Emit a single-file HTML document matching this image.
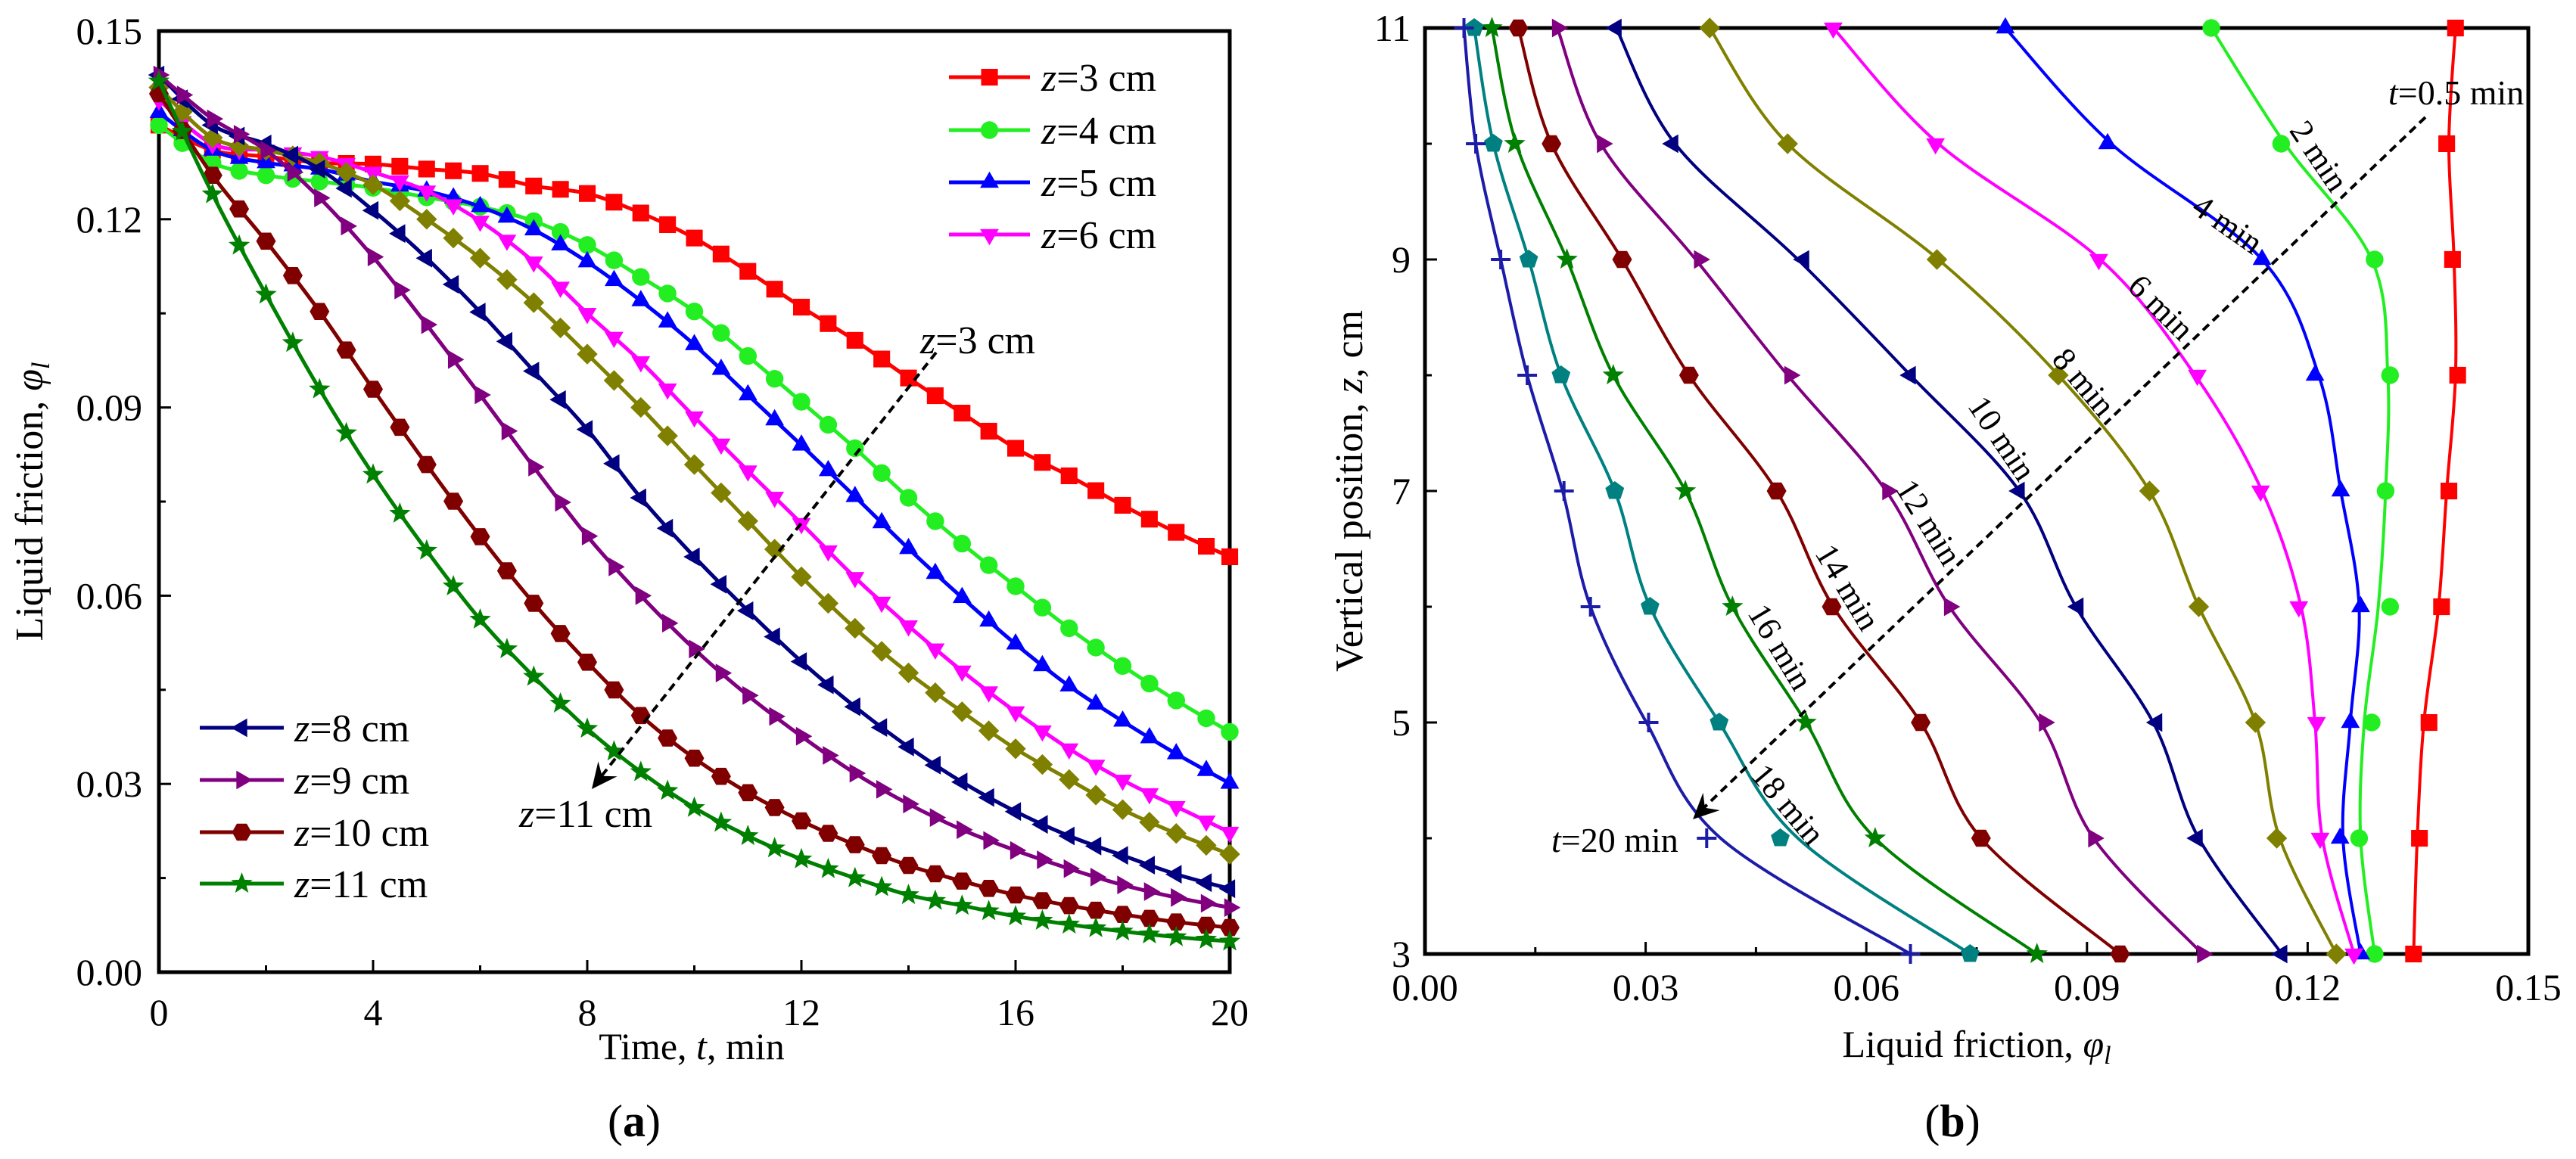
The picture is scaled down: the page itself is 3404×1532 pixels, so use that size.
<!DOCTYPE html>
<html><head><meta charset="utf-8"><style>
html,body{margin:0;padding:0;background:#fff}
svg text{font-family:"Liberation Serif","DejaVu Serif",serif;fill:#000}
</style></head><body>
<svg id="fig" width="3404" height="1527" viewBox="0 0 3404 1527" xmlns="http://www.w3.org/2000/svg">
<rect width="3404" height="1527" fill="#fff"/>
<g id="pa"></g>
<g id="pb"></g>
</svg>
<script>
// ---------- Panel (a) data ----------
const timesA = [0,1,2,3,4,5,6,7,8,9,10,11,12,13,14,15,16,17,18,19,20];
const labelsA = ["z=3 cm","z=4 cm","z=5 cm","z=6 cm","z=7 cm","z=8 cm","z=9 cm","z=10 cm","z=11 cm"];
const z3 = [0.135,0.131,0.130,0.129,0.1288,0.128,0.1273,0.1253,0.1241,0.121,0.117,0.1117,0.106,0.1007,0.0947,0.0891,0.0835,0.0791,0.0744,0.0701,0.0662];
const z4 = [0.135,0.129,0.127,0.126,0.125,0.1235,0.122,0.1197,0.1159,0.1108,0.1053,0.0982,0.0909,0.0835,0.0756,0.0683,0.0615,0.0548,0.0488,0.0433,0.0383];
const z5 = [0.137,0.131,0.129,0.128,0.126,0.1245,0.122,0.1183,0.1132,0.107,0.100,0.092,0.084,0.0758,0.0675,0.0597,0.0523,0.0456,0.040,0.0348,0.0301];
const z6 = [0.139,0.132,0.131,0.130,0.1275,0.1245,0.1197,0.1132,0.105,0.0973,0.0885,0.0799,0.0715,0.0629,0.0552,0.048,0.0415,0.0356,0.0306,0.0264,0.0223];
const z7 = [0.141,0.133,0.131,0.129,0.1255,0.120,0.1138,0.1067,0.0985,0.090,0.0809,0.0719,0.063,0.0548,0.0477,0.0415,0.0356,0.0307,0.0259,0.0221,0.0188];
const z8 = [0.143,0.135,0.132,0.128,0.1214,0.1138,0.1052,0.0958,0.0865,0.0756,0.0662,0.0576,0.0495,0.0423,0.0359,0.0303,0.0256,0.0217,0.0186,0.0156,0.0133];
const z9 = [0.143,0.136,0.131,0.1234,0.114,0.1032,0.092,0.0805,0.0695,0.060,0.0515,0.0441,0.0376,0.0317,0.0268,0.0227,0.0194,0.0165,0.0139,0.0119,0.0103];
const z10 = [0.140,0.127,0.1165,0.1053,0.0929,0.0809,0.0694,0.0588,0.0494,0.0409,0.0341,0.0286,0.0241,0.0203,0.017,0.0145,0.0123,0.0106,0.0092,0.008,0.0071];
const z11 = [0.142,0.124,0.108,0.0929,0.0793,0.0672,0.0562,0.0471,0.0388,0.0319,0.0262,0.0217,0.018,0.015,0.0123,0.0106,0.0089,0.0076,0.0065,0.0056,0.0049];
const xTicksA = [0,4,8,12,16,20];
const yTicksA = [0,0.03,0.06,0.09,0.12,0.15];
const yTickLabelsA = ["0.00","0.03","0.06","0.09","0.12","0.15"];

// ---------- Panel (b) data ----------
const zLine = [3,4,5,6,7,8,9,10,11];
const zMark = [4,5,6,7,8,9,10];
const labelsB = ["0.5 min","2 min","4 min","6 min","8 min","10 min","12 min","14 min","16 min","18 min","20 min"];
const t05 = [0.1344,0.1349,0.1358,0.1378,0.1389,0.1401,0.1399,0.1392,0.1401];
const t05m = [0.1352,0.1365,0.1382,0.1392,0.1404,0.1397,0.1389];
const t2 = [0.1291,0.1272,0.1277,0.1296,0.1306,0.1309,0.1287,0.1169,0.1069];
const t2m = [0.1270,0.1287,0.1312,0.1306,0.1312,0.1291,0.1164];
const t4 = [0.1272,0.1248,0.1258,0.1270,0.1245,0.1215,0.1138,0.0933,0.0789];
const t4m = [0.1244,0.1258,0.1272,0.1245,0.1210,0.1138,0.0928];
const t6 = [0.1263,0.1220,0.1210,0.1191,0.1138,0.1047,0.0918,0.0698,0.0555];
const t6m = [0.1217,0.1212,0.1188,0.1136,0.1050,0.0916,0.0694];
const t8 = [0.1239,0.1162,0.1129,0.1052,0.0985,0.0861,0.0698,0.0493,0.0387];
const t8m = [0.1158,0.1129,0.1052,0.0985,0.0861,0.0696,0.0493];
const t10 = [0.1165,0.1052,0.0990,0.0885,0.0808,0.0660,0.0507,0.0340,0.0260];
const t10m = [0.1050,0.0995,0.0888,0.0808,0.0660,0.0515,0.0337];
const t12 = [0.1057,0.0909,0.0837,0.0713,0.0627,0.0493,0.0368,0.0239,0.0180];
const t12m = [0.0909,0.0842,0.0713,0.0629,0.0496,0.0373,0.0241];
const t14 = [0.0945,0.0756,0.0674,0.0555,0.0478,0.0359,0.0268,0.0172,0.0127];
const t14m = [0.0756,0.0674,0.0553,0.0478,0.0359,0.0268,0.0172];
const t16 = [0.0832,0.0612,0.0518,0.0418,0.0354,0.0256,0.0193,0.0124,0.0091];
const t16m = [0.0612,0.0518,0.0418,0.0354,0.0256,0.0193,0.0122];
const t18 = [0.0741,0.0507,0.0400,0.0306,0.0258,0.0185,0.0141,0.0093,0.0067];
const t18m = [0.0483,0.0400,0.0306,0.0258,0.0185,0.0141,0.0093];
const t20 = [0.0660,0.0402,0.0301,0.0225,0.0187,0.0139,0.0103,0.0069,0.0053];
const t20m = [0.0383,0.0304,0.0225,0.0189,0.0139,0.0103,0.0069];
const xTicksB = [0,0.03,0.06,0.09,0.12,0.15];
const xTickLabelsB = ["0.00","0.03","0.06","0.09","0.12","0.15"];
const yTicksB = [3,5,7,9,11];

const NS = "http://www.w3.org/2000/svg";
function mk(parent, tag, attrs, txt){
  const e = document.createElementNS(NS, tag);
  for (const k in attrs) e.setAttribute(k, attrs[k]);
  if (txt !== undefined) e.textContent = txt;
  parent.appendChild(e);
  return e;
}
const A = {x0:210,x1:1625,y0:41,y1:1285};
const B = {x0:1883,x1:3341,y0:37,y1:1261};
const ax = t => A.x0 + (t/20)*(A.x1-A.x0);
const ay = v => A.y1 - (v/0.15)*(A.y1-A.y0);
const bx = v => B.x0 + (v/0.15)*(B.x1-B.x0);
const by = z => B.y1 - ((z-3)/8)*(B.y1-B.y0);
const MR = 13;

function crPoint(p0,p1,p2,p3,s){
  const s2=s*s,s3=s2*s;
  const f=(a,b,c,d)=>0.5*((2*b)+(-a+c)*s+(2*a-5*b+4*c-d)*s2+(-a+3*b-3*c+d)*s3);
  return [f(p0[0],p1[0],p2[0],p3[0]), f(p0[1],p1[1],p2[1],p3[1])];
}
function smoothPath(pts){
  let d = "M"+pts[0][0].toFixed(1)+","+pts[0][1].toFixed(1);
  for (let i=0;i<pts.length-1;i++){
    const p0=pts[Math.max(i-1,0)],p1=pts[i],p2=pts[i+1],p3=pts[Math.min(i+2,pts.length-1)];
    const c1=[p1[0]+(p2[0]-p0[0])/6,p1[1]+(p2[1]-p0[1])/6];
    const c2=[p2[0]-(p3[0]-p1[0])/6,p2[1]-(p3[1]-p1[1])/6];
    d+=" C"+c1[0].toFixed(1)+","+c1[1].toFixed(1)+" "+c2[0].toFixed(1)+","+c2[1].toFixed(1)+" "+p2[0].toFixed(1)+","+p2[1].toFixed(1);
  }
  return d;
}
function poly(n, r, rot){
  const p=[];
  for(let i=0;i<n;i++){const a=rot+i*2*Math.PI/n;p.push((r*Math.cos(a)).toFixed(1)+","+(r*Math.sin(a)).toFixed(1));}
  return p.join(" ");
}
function starPts(r){
  const p=[];
  for(let i=0;i<10;i++){const a=-Math.PI/2+i*Math.PI/5;const rr=i%2?r*0.42:r;p.push((rr*Math.cos(a)).toFixed(1)+","+(rr*Math.sin(a)).toFixed(1));}
  return p.join(" ");
}
function marker(g, shape, x, y, color, r){
  let e;
  const tr = "translate("+x.toFixed(1)+","+y.toFixed(1)+")";
  if (shape==="square") e = mk(g,"rect",{x:(x-r*0.85).toFixed(1),y:(y-r*0.85).toFixed(1),width:(r*1.7).toFixed(1),height:(r*1.7).toFixed(1),fill:color});
  else if (shape==="circle") e = mk(g,"circle",{cx:x.toFixed(1),cy:y.toFixed(1),r:(r*0.9).toFixed(1),fill:color});
  else if (shape==="up") e = mk(g,"polygon",{points:poly(3,r*1.1,-Math.PI/2),transform:tr,fill:color});
  else if (shape==="down") e = mk(g,"polygon",{points:poly(3,r*1.1,Math.PI/2),transform:tr,fill:color});
  else if (shape==="left") e = mk(g,"polygon",{points:poly(3,r*1.1,Math.PI),transform:tr,fill:color});
  else if (shape==="right") e = mk(g,"polygon",{points:poly(3,r*1.1,0),transform:tr,fill:color});
  else if (shape==="diamond") e = mk(g,"polygon",{points:poly(4,r*1.05,0),transform:tr,fill:color});
  else if (shape==="hex") e = mk(g,"polygon",{points:poly(6,r,0),transform:tr,fill:color});
  else if (shape==="pent") e = mk(g,"polygon",{points:poly(5,r,-Math.PI/2),transform:tr,fill:color});
  else if (shape==="star") e = mk(g,"polygon",{points:starPts(r*1.15),transform:tr,fill:color});
  else if (shape==="plus") e = mk(g,"path",{d:"M"+(x-r)+","+y+"H"+(x+r)+"M"+x+","+(y-r)+"V"+(y+r),stroke:color,"stroke-width":4,fill:"none"});
  
  
  return e;
}
function frame(g, P){
  const r = mk(g,"rect",{x:P.x0,y:P.y0,width:P.x1-P.x0,height:P.y1-P.y0,fill:"none",stroke:"#000","stroke-width":5});
  
  
}
function tick(g,x1,y1,x2,y2){
  const l = mk(g,"line",{x1:x1,y1:y1,x2:x2,y2:y2,stroke:"#000","stroke-width":3});
  
  
}
function arrowHead(g, x1,y1,x2,y2){
  const ang = Math.atan2(y2-y1,x2-x1);
  const L=34, W=16, back=22;
  const p=(d,w)=>[x2-d*Math.cos(ang)-w*Math.sin(ang), y2-d*Math.sin(ang)+w*Math.cos(ang)];
  const a=p(L,W), b=p(back,0), c=p(L,-W);
  const e = mk(g,"polygon",{points:[[x2,y2],a,b,c].map(q=>q[0].toFixed(1)+","+q[1].toFixed(1)).join(" "),fill:"#000"});
  
  
}

// ---------- draw panel (a) ----------
const ga = document.getElementById("pa");
const seriesA = [z3,z4,z5,z6,z7,z8,z9,z10,z11];
const colorsA = ["#ff0000","#22ee22","#0000ff","#ff00ff","#808000","#000080","#800080","#800000","#008000"];
const shapesA = ["square","circle","up","down","diamond","left","right","hex","star"];
frame(ga, A);
xTicksA.forEach(t=>{
  tick(ga, ax(t), A.y1, ax(t), A.y1-16);
  const tx = mk(ga,"text",{x:ax(t),y:1355,"font-size":50,"text-anchor":"middle"},String(t));
  
  
});
for (let t=2;t<20;t+=4) tick(ga, ax(t), A.y1, ax(t), A.y1-9);
yTicksA.forEach((v,i)=>{
  tick(ga, A.x0, ay(v), A.x0+16, ay(v));
  const tx = mk(ga,"text",{x:188,y:ay(v)+17,"font-size":50,"text-anchor":"end"},yTickLabelsA[i]);
  
  
});
for (let v=0.015;v<0.15;v+=0.03) tick(ga, A.x0, ay(v), A.x0+9, ay(v));

seriesA.forEach((s,si)=>{
  const g = mk(ga,"g",{});
  
  
  const pts = s.map((v,i)=>[ax(timesA[i]), ay(v)]);
  const p = mk(g,"path",{d:smoothPath(pts),fill:"none",stroke:colorsA[si],"stroke-width":5});
  
  
  for (let i=0;i<pts.length;i++){
    marker(g, shapesA[si], pts[i][0], pts[i][1], colorsA[si], MR);
    if (i<pts.length-1){
      const m = crPoint(pts[Math.max(i-1,0)],pts[i],pts[i+1],pts[Math.min(i+2,pts.length-1)],0.5);
      marker(g, shapesA[si], m[0], m[1], colorsA[si], MR);
    }
  }
});
const legTop = [0,1,2,3], legBot = [5,6,7,8];
const legTopY = [102,172,241,310], legBotY = [962,1031,1100,1168];
function legendEntry(si, x1, x2, tx, y){
  const g = mk(ga,"g",{});
  
  
  mk(g,"line",{x1:x1,y1:y,x2:x2,y2:y,stroke:colorsA[si],"stroke-width":5});
  marker(g, shapesA[si], (x1+x2)/2, y, colorsA[si], MR);
  const rest = labelsA[si].slice(1);
  const t = mk(g,"text",{x:tx,y:y+18,"font-size":52});
  mk(t,"tspan",{"font-style":"italic"},"z");
  mk(t,"tspan",{},rest);
}
legTop.forEach((si,i)=>legendEntry(si,1254,1361,1376,legTopY[i]));
legBot.forEach((si,i)=>legendEntry(si,264,375,389,legBotY[i]));
const arA = mk(ga,"line",{x1:1237,y1:466,x2:790,y2:1032,stroke:"#000","stroke-width":4,"stroke-dasharray":"11,7"});


arrowHead(ga,1237,466,782,1043);
(function(){
  let t = mk(ga,"text",{x:1216,y:467,"font-size":52});
  
  
  mk(t,"tspan",{"font-style":"italic"},"z"); mk(t,"tspan",{},"=3 cm");
  t = mk(ga,"text",{x:686,y:1093,"font-size":52});
  
  
  mk(t,"tspan",{"font-style":"italic"},"z"); mk(t,"tspan",{},"=11 cm");
  t = mk(ga,"text",{x:914,y:1400,"font-size":50,"text-anchor":"middle"});
  
  
  mk(t,"tspan",{},"Time, "); mk(t,"tspan",{"font-style":"italic"},"t"); mk(t,"tspan",{},", min");
  t = mk(ga,"text",{x:0,y:0,"font-size":52,"text-anchor":"middle",transform:"translate(56,663) rotate(-90)"});
  
  
  mk(t,"tspan",{},"Liquid friction, "); mk(t,"tspan",{"font-style":"italic"},"φ"); mk(t,"tspan",{"font-style":"italic","font-size":34,dy:9},"l");
  t = mk(ga,"text",{x:838,y:1502,"font-size":60,"text-anchor":"middle"});
  
  
  mk(t,"tspan",{},"("); mk(t,"tspan",{"font-weight":"bold"},"a"); mk(t,"tspan",{},")");
})();

// ---------- draw panel (b) ----------
const gb = document.getElementById("pb");
const linesB = [t05,t2,t4,t6,t8,t10,t12,t14,t16,t18,t20];
const marksB = [t05m,t2m,t4m,t6m,t8m,t10m,t12m,t14m,t16m,t18m,t20m];
const colorsB = ["#ff0000","#22ee22","#0000ff","#ff00ff","#808000","#000080","#800080","#800000","#008000","#008080","#1c1ca8"];
const shapesB = ["square","circle","up","down","diamond","left","right","hex","star","pent","plus"];
frame(gb, B);
xTicksB.forEach((v,i)=>{
  tick(gb, bx(v), B.y1, bx(v), B.y1-16);
  const tx = mk(gb,"text",{x:bx(v),y:1322,"font-size":50,"text-anchor":"middle"},xTickLabelsB[i]);
  
  
});
for (let v=0.015;v<0.15;v+=0.03) tick(gb, bx(v), B.y1, bx(v), B.y1-9);
yTicksB.forEach(z=>{
  tick(gb, B.x0, by(z), B.x0+16, by(z));
  const tx = mk(gb,"text",{x:1864,y:by(z)+17,"font-size":50,"text-anchor":"end"},String(z));
  
  
});
for (let z=4;z<11;z+=2) tick(gb, B.x0, by(z), B.x0+9, by(z));
linesB.forEach((s,si)=>{
  const g = mk(gb,"g",{});
  
  
  const pts = s.map((v,i)=>[bx(v), by(zLine[i])]);
  const p = mk(g,"path",{d:smoothPath(pts),fill:"none",stroke:colorsB[si],"stroke-width":4});
  
  
  marker(g, shapesB[si], bx(s[0]), by(zLine[0]), colorsB[si], MR);
  marker(g, shapesB[si], bx(s[s.length-1]), by(zLine[zLine.length-1]), colorsB[si], MR);
  marksB[si].forEach((v,i)=>marker(g, shapesB[si], bx(v), by(zMark[i]), colorsB[si], MR));
});
const curveLabelPos = [[3065,206,56],[2944,296,35],[2856,406,45],[2754,505,50],[2646,579,56],[2549,690,58],[2442,776,59],[2353,855,59],[2363,1063,50]];
curveLabelPos.forEach((p,i)=>{
  const t = mk(gb,"text",{x:0,y:0,"font-size":44,"text-anchor":"middle",transform:"translate("+p[0]+","+p[1]+") rotate("+p[2]+")",dy:15},labelsB[i+1]);
  
  
});
const arB = mk(gb,"line",{x1:3205,y1:155,x2:2245,y2:1074,stroke:"#000","stroke-width":4,"stroke-dasharray":"11,7"});


arrowHead(gb,3205,155,2237,1083);
(function(){
  let t = mk(gb,"text",{x:3156,y:138,"font-size":46});
  
  
  mk(t,"tspan",{"font-style":"italic"},"t"); mk(t,"tspan",{},"=0.5 min");
  t = mk(gb,"text",{x:2050,y:1126,"font-size":46});
  
  
  mk(t,"tspan",{"font-style":"italic"},"t"); mk(t,"tspan",{},"=20 min");
  t = mk(gb,"text",{x:2612,y:1397,"font-size":50,"text-anchor":"middle"});
  
  
  mk(t,"tspan",{},"Liquid friction, "); mk(t,"tspan",{"font-style":"italic"},"φ"); mk(t,"tspan",{"font-style":"italic","font-size":34,dy:9},"l");
  t = mk(gb,"text",{x:0,y:0,"font-size":52,"text-anchor":"middle",transform:"translate(1800,649) rotate(-90)"});
  
  
  mk(t,"tspan",{},"Vertical position, "); mk(t,"tspan",{"font-style":"italic"},"z"); mk(t,"tspan",{},", cm");
  t = mk(gb,"text",{x:2580,y:1502,"font-size":60,"text-anchor":"middle"});
  
  
  mk(t,"tspan",{},"("); mk(t,"tspan",{"font-weight":"bold"},"b"); mk(t,"tspan",{},")");
})();
</script>
</body></html>
